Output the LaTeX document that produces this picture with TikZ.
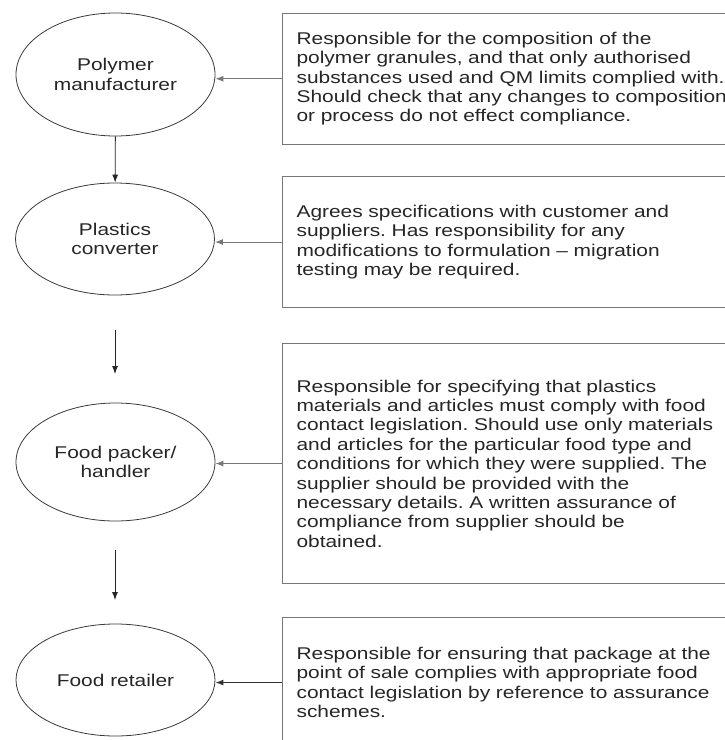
\documentclass[tikz,border=0pt]{standalone}
\usepackage{fontspec}
\setmainfont[FakeStretch=1.23]{Liberation Sans}
\usetikzlibrary{shapes.geometric,arrows.meta}
\definecolor{inkc}{HTML}{262626}
\definecolor{framec}{HTML}{767676}
\definecolor{ovalc}{HTML}{3A3A3A}
\frenchspacing
\begin{document}
\begin{tikzpicture}[x=1bp,y=-1bp,
  txt/.style={font=\fontsize{17bp}{19.4bp}\selectfont, text=inkc},
  actor/.style={txt, ellipse, draw=ovalc, line width=0.8bp, inner sep=0pt,
    minimum width=199bp, align=center},
  descbox/.style={txt, rectangle, draw=framec, line width=1.1bp, anchor=north west,
    inner xsep=14bp, inner ysep=0pt, text width=452bp, align=left},
  flow/.style={-{Latex[length=8bp,width=6bp]}, line width=0.9bp, draw=black!85},
  feed/.style={-{Latex[length=8bp,width=6bp]}, line width=1.1bp, draw=framec}
]
\useasboundingbox[fill=white] (0,0) rectangle (725,740);

% actors in the supply chain
\node[actor, minimum height=123bp] (pm) at (115.5,74.5) {Polymer\\manufacturer};
\node[actor, minimum height=112bp] (pc) at (115,239) {Plastics\\converter};
\node[actor, minimum height=118bp] (fp) at (115.5,462) {Food packer/\\handler};
\node[actor, minimum height=112bp] (fr) at (115.5,680) {Food retailer};

% responsibilities
\node[descbox, minimum height=131bp] (d1) at (282,12.7) {Responsible for the composition of the\\
polymer granules, and that only authorised\\
substances used and QM limits complied with.\\
Should check that any changes to composition\\
or process do not effect compliance.};
\node[descbox, minimum height=131bp] (d2) at (282,176) {Agrees specifications with customer and\\
suppliers. Has responsibility for any\\
modifications to formulation -- migration\\
testing may be required.};
\node[descbox, minimum height=240bp] (d3) at (282,343) {Responsible for specifying that plastics\\
materials and articles must comply with food\\
contact legislation. Should use only materials\\
and articles for the particular food type and\\
conditions for which they were supplied. The\\
supplier should be provided with the\\
necessary details. A written assurance of\\
compliance from supplier should be\\
obtained.};
\node[descbox, minimum height=130bp] (d4) at (282,617) {Responsible for ensuring that package at the\\
point of sale complies with appropriate food\\
contact legislation by reference to assurance\\
schemes.};

% downward flow
\coordinate (a2s) at (115,330);
\coordinate (a2e) at (115,374);
\coordinate (a3s) at (115,550);
\coordinate (a3e) at (115,600);
\draw[flow] (pm) -- (pc);
\draw[flow] (a2s) -- (a2e);
\draw[flow] (a3s) -- (a3e);

% links from responsibilities to actors
\draw[feed] (d1.west) -- (pm.east |- d1.west);
\draw[feed] (d2.west) -- (pc.east |- d2.west);
\draw[feed] (d3.west) -- (fp.east |- d3.west);
\draw[feed, draw=black!80] (d4.west) -- (fr.east |- d4.west);
\end{tikzpicture}
\end{document}
